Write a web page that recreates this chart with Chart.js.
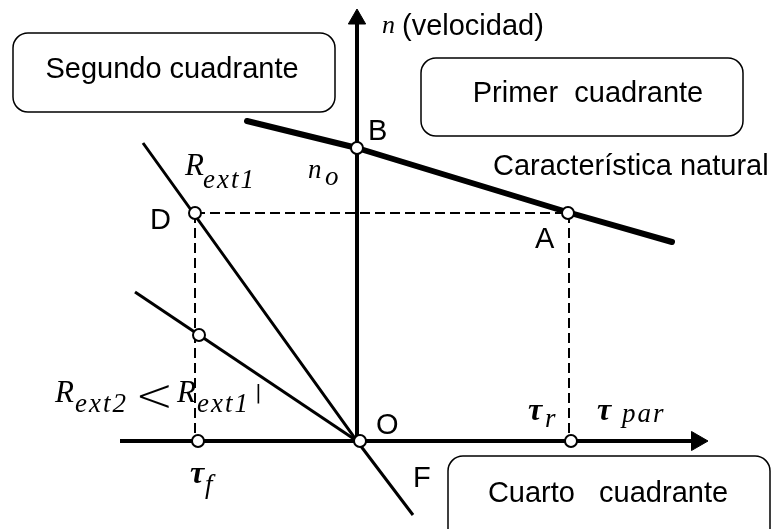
<!DOCTYPE html>
<html>
<head>
<meta charset="utf-8">
<script src="https://cdn.jsdelivr.net/npm/chart.js@4.4.1/dist/chart.umd.min.js"></script>
<style>
  html, body { margin: 0; padding: 0; background: #fff; }
</style>
</head>
<body>
<canvas id="diagram" width="782" height="529"></canvas>
<script>
// Cuadrantes de funcionamiento del motor: par (tau) en x, velocidad (n) en y.
// Unidades arbitrarias, origen en O.

// ── Datos ────────────────────────────────────────────────────────────────
const TAU_AXIS = [-237, 335];            // eje del par
const N_AXIS = [0, 418];                 // eje de la velocidad
const TAU_ARROW = 340;
const N_ARROW = 422;

const NATURAL_TAU = [-110, 0, 210, 315]; // característica natural
const NATURAL_N = [320, 293, 229, 199];

const REXT1_TAU = [-214, 0, 56];         // recta con R_ext1 (pasa por D, O, F)
const REXT1_N = [298, 0, -74];
const REXT2_TAU = [-222, 0];             // recta con R_ext2
const REXT2_N = [149, 0];

const N_WORK = 228;                      // velocidad de A y D
const TAU_R = 212;                       // par resistente
const TAU_F = -162;                      // par de frenado

// puntos marcados: B, A, D, corte con R_ext2, tau_f, O, tau_r
const MARK_TAU = [0, 211, -162, -158, -159, 3, 214];
const MARK_N = [293, 228, 228, 106, 0, 0, 0];

// ── Estilos ──────────────────────────────────────────────────────────────
const INK = '#000';
const SANS = '29px "Liberation Sans", Arial, sans-serif';
const SERIF_I = 'italic 31px "Liberation Serif", serif';
const SUB_I = 'italic 27px "Liberation Serif", serif';
const TAU_FONT = 'bold italic 32px "Liberation Serif", serif';

// textos: [texto, tau, n, fuente, alineación]
const LABELS = [
    ['Segundo cuadrante', -185, 363, SANS, 'center'],
    ['Primer  cuadrante', 231, 339, SANS, 'center'],
    ['Cuarto   cuadrante', 251, -61, SANS, 'center'],
    ['Característica natural', 136, 266, SANS, 'left'],
    ['(velocidad)', 45, 406, SANS, 'left'],
    ['n', 25, 408, 'italic 26px "Liberation Serif", serif', 'left'],
    ['B', 11, 301, SANS, 'left'],
    ['D', -207, 212, SANS, 'left'],
    ['A', 178, 193, SANS, 'left'],
    ['O', 19, 7, SANS, 'left'],
    ['F', 56, -46, SANS, 'left'],
    ['n', -49, 263, SUB_I, 'left'],
    ['o', -32, 256, SUB_I, 'left'],
    ['R', -172, 266, SERIF_I, 'left'],
    ['ext1', -154, 253, SUB_I, 'left'],
    ['R', -302, 39, SERIF_I, 'left'],
    ['ext2', -282, 29, SUB_I, 'left'],
    ['<', -222, 30, '200 46px "DejaVu Sans", sans-serif', 'left'],
    ['R', -180, 39, SERIF_I, 'left'],
    ['ext1', -160, 29, SUB_I, 'left'],
    ['|', -102, 42, '20px "DejaVu Sans", sans-serif', 'left'],
    ['τ', -167, -42, TAU_FONT, 'left'],
    ['f', -152, -52, SUB_I, 'left'],
    ['τ', 171, 21, TAU_FONT, 'left'],
    ['r', 188, 14, SUB_I, 'left'],
    ['τ', 240, 21, TAU_FONT, 'left'],
    ['par', 265, 19, SUB_I, 'left']
];

// recuadros de los cuadrantes: [tau0, n0, tau1, n1]
const BOXES = [
    [-344, 408, -22, 329],
    [64, 383, 386, 305],
    [91, -15, 413, -104]
];

const pts = (xs, ys) => xs.map((x, i) => ({ x, y: ys[i] }));

function line(data, width, opts = {}) {
    return Object.assign({
        data,
        showLine: true,
        borderColor: INK,
        borderWidth: width,
        pointRadius: 0,
        order: 2
    }, opts);
}

// ── Recuadros y textos ───────────────────────────────────────────────────
const annotations = {
    id: 'annotations',
    beforeDatasetsDraw(chart) {
        const { ctx, scales: { x, y } } = chart;
        ctx.save();
        ctx.strokeStyle = INK;
        ctx.lineWidth = 1.5;
        BOXES.forEach(([t0, n0, t1, n1]) => {
            const px0 = x.getPixelForValue(t0), py0 = y.getPixelForValue(n0);
            const px1 = x.getPixelForValue(t1), py1 = y.getPixelForValue(n1);
            ctx.beginPath();
            ctx.roundRect(px0, py0, px1 - px0, py1 - py0, 15);
            ctx.stroke();
        });
        ctx.restore();
    },
    afterDatasetsDraw(chart) {
        const { ctx, scales: { x, y } } = chart;
        ctx.save();
        ctx.fillStyle = INK;
        ctx.textBaseline = 'alphabetic';
        LABELS.forEach(([text, t, n, font, align]) => {
            ctx.font = font;
            ctx.textAlign = align;
            ctx.letterSpacing = font === SUB_I ? '2px' : '0px';
            ctx.fillText(text, x.getPixelForValue(t), y.getPixelForValue(n));
        });
        ctx.restore();
    }
};

new Chart(document.getElementById('diagram'), {
    type: 'scatter',
    data: {
        datasets: [
            // puntos de funcionamiento
            {
                data: pts(MARK_TAU, MARK_N),
                pointRadius: 6,
                pointBorderWidth: 2,
                pointBackgroundColor: '#fff',
                pointBorderColor: INK,
                order: 0
            },
            // flechas de los ejes
            {
                data: [{ x: 0, y: N_ARROW }],
                pointStyle: 'triangle',
                pointRadius: 10,
                pointRotation: 0,
                pointBackgroundColor: INK,
                pointBorderColor: INK,
                order: 1
            },
            {
                data: [{ x: TAU_ARROW, y: 0 }],
                pointStyle: 'triangle',
                pointRadius: 11,
                pointRotation: 90,
                pointBackgroundColor: INK,
                pointBorderColor: INK,
                order: 1
            },
            line(pts(TAU_AXIS, [0, 0]), 4),
            line(pts([0, 0], N_AXIS), 4),
            line(pts(NATURAL_TAU, NATURAL_N), 6, { borderCapStyle: 'round', borderJoinStyle: 'round' }),
            line(pts(REXT1_TAU, REXT1_N), 3),
            line(pts(REXT2_TAU, REXT2_N), 3),
            // proyecciones
            line(pts([TAU_F, TAU_R], [N_WORK, N_WORK]), 2, { borderDash: [10, 5] }),
            line(pts([TAU_R, TAU_R], [N_WORK, 0]), 2, { borderDash: [10, 5] }),
            line(pts([TAU_F, TAU_F], [N_WORK, 0]), 2, { borderDash: [10, 5] })
        ]
    },
    options: {
        responsive: false,
        animation: false,
        events: [],
        layout: { autoPadding: false, padding: 0 },
        plugins: { legend: { display: false }, tooltip: { enabled: false } },
        scales: {
            x: { type: 'linear', min: -357, max: 425, display: false },
            y: { type: 'linear', min: -88, max: 441, display: false }
        }
    },
    plugins: [annotations]
});
</script>
</body>
</html>
